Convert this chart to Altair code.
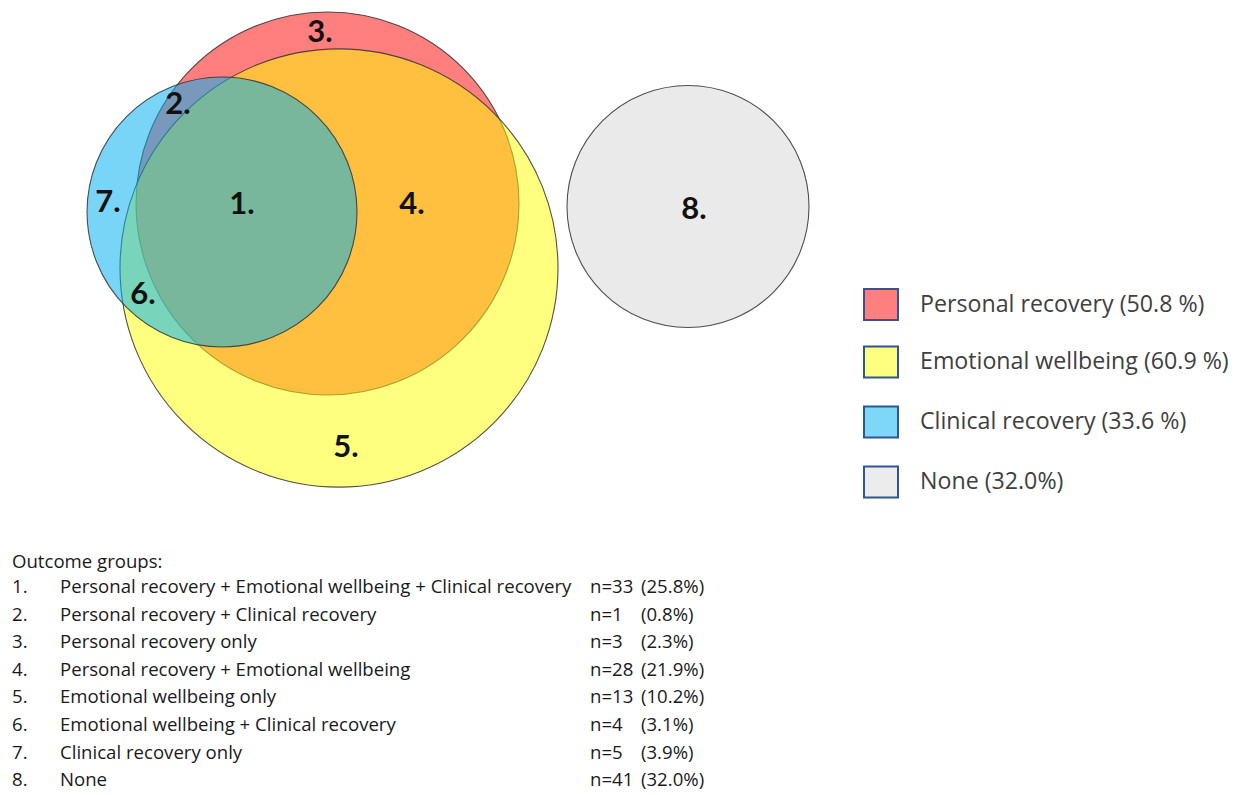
import altair as alt
import pandas as pd

# ---- data ----
set_names = ["Personal recovery", "Emotional wellbeing", "Clinical recovery", "None"]
set_pcts = ["(50.8 %)", "(60.9 %)", "(33.6 %)", "(32.0%)"]
set_colors = ["#FF0000", "#FFFF00", "#00B0F0", "#D9D9D9"]

group_ids = ["1.", "2.", "3.", "4.", "5.", "6.", "7.", "8."]
group_labels = [
    "Personal recovery + Emotional wellbeing + Clinical recovery",
    "Personal recovery + Clinical recovery",
    "Personal recovery only",
    "Personal recovery + Emotional wellbeing",
    "Emotional wellbeing only",
    "Emotional wellbeing + Clinical recovery",
    "Clinical recovery only",
    "None",
]
group_n = [33, 1, 3, 28, 13, 4, 5, 41]
group_pct = ["(25.8%)", "(0.8%)", "(2.3%)", "(21.9%)", "(10.2%)", "(3.1%)", "(3.9%)", "(32.0%)"]

# ---- layout (pixel-like coordinates of the drawing) ----
circle_cx = [327.5, 339, 222, 688]
circle_cy = [203.5, 268, 212, 206.5]
circle_r = [191.5, 219, 135, 121]
circle_op = [0.5, 0.5, 0.53, 0.55]

label_x = [242, 178, 320, 412, 346, 143, 108, 694]
label_y = [205, 105, 33, 205, 448, 295, 203, 210]

legend_y = [304.5, 362, 422, 482]

W, H = 1228, 787
xs = alt.Scale(domain=[8, 8 + W], range=[0, W])
ys = alt.Scale(domain=[8, 8 + H], reverse=True)
X = lambda f: alt.X(f, type="quantitative", scale=xs, axis=None)
Y = lambda f: alt.Y(f, type="quantitative", scale=ys, axis=None)

layers = []
for i in range(4):
    d = pd.DataFrame({"x": [circle_cx[i]], "y": [circle_cy[i]],
                      "s": [(2 * circle_r[i]) ** 2], "set": [set_names[i]]})
    layers.append(
        alt.Chart(d).mark_point(shape="circle", filled=True, fill=set_colors[i],
                                fillOpacity=circle_op[i], stroke="#333333",
                                strokeWidth=1.1, strokeOpacity=0.85)
        .encode(x=X("x"), y=Y("y"), size=alt.Size("s:Q", scale=None, legend=None))
    )

lab = pd.DataFrame({"t": group_ids, "x": label_x, "y": label_y})
layers.append(
    alt.Chart(lab).mark_text(font="Lato", fontSize=31, fontWeight="bold",
                             color="#111111", align="center", baseline="middle")
    .encode(x=X("x"), y=Y("y"), text="t:N")
)

# legend
leg = pd.DataFrame({
    "name": [f"{n} {p}" for n, p in zip(set_names, set_pcts)],
    "y": legend_y,
    "y1": [v - 15.5 for v in legend_y],
    "y2": [v + 15.5 for v in legend_y],
    "x1": [864] * 4, "x2": [898] * 4, "tx": [920] * 4,
    "fill": set_colors,
})
layers.append(
    alt.Chart(leg).mark_rect(fillOpacity=0.5, stroke="#2F5597", strokeWidth=2, strokeOpacity=1)
    .encode(x=X("x1"), x2="x2", y=Y("y1"), y2="y2", fill=alt.Fill("fill:N", scale=None))
)
layers.append(
    alt.Chart(leg).mark_text(font="Open Sans", fontSize=23.2, color="#404040", align="left", baseline="middle")
    .encode(x=X("tx"), y=Y("y"), text="name:N")
)

# table
row_y = [587 + 27.6 * i for i in range(8)]
tab = pd.DataFrame({
    "id": group_ids, "label": group_labels,
    "n": [f"n={v}" for v in group_n], "pct": group_pct, "y": row_y,
})
tstyle = dict(font="Open Sans", fontSize=18.6, color="#1a1a1a", align="left", baseline="middle")
for col, xpos in [("id", 12), ("label", 60), ("n", 590), ("pct", 641)]:
    layers.append(
        alt.Chart(tab).mark_text(**tstyle)
        .encode(x=alt.value(xpos - 8), y=Y("y"), text=f"{col}:N")
    )
title_df = pd.DataFrame({"t": ["Outcome groups:"], "y": [562]})
layers.append(
    alt.Chart(title_df).mark_text(**tstyle).encode(x=alt.value(4), y=Y("y"), text="t:N")
)

chart = alt.layer(*layers).properties(width=W, height=H, padding=0, autosize="none",
                                      background="white").configure_view(strokeWidth=0)
chart.save("out.html", embed_options={"renderer": "svg", "actions": False})
